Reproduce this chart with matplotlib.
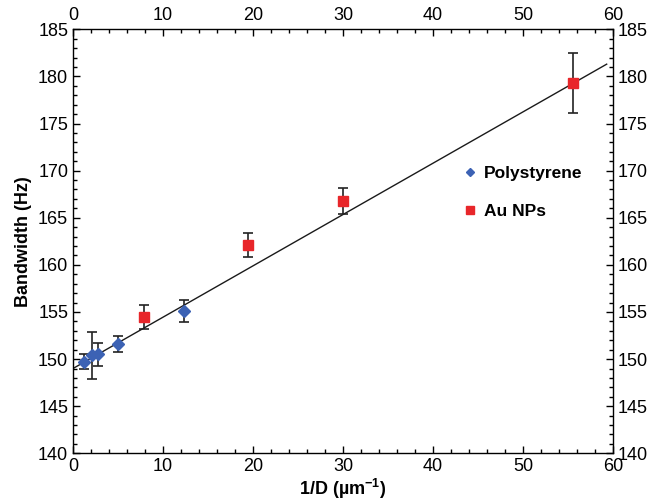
import numpy as np
import matplotlib.pyplot as plt
from matplotlib.ticker import MultipleLocator

plt.rcParams['font.family'] = ['Liberation Sans', 'DejaVu Sans']
plt.rcParams['mathtext.fontset'] = 'custom'
plt.rcParams['mathtext.rm'] = 'Liberation Sans'
plt.rcParams['mathtext.bf'] = 'Liberation Sans:bold'

# Polystyrene beads
ps_x = [1.26, 2.14, 2.81, 5.03, 12.33]
ps_y = [149.7, 150.4, 150.5, 151.6, 155.1]
ps_err = [0.8, 2.5, 1.2, 0.85, 1.2]

# Au nanoparticles
au_x = [7.92, 19.4, 29.96, 55.6]
au_y = [154.5, 162.1, 166.8, 179.3]
au_err = [1.27, 1.27, 1.4, 3.15]

# linear fit
fit_x = [0.0, 59.3]
fit_y = [149.0, 181.3]

fig = plt.figure(figsize=(6.49, 5.0), dpi=100)
ax = fig.add_axes([0.1125, 0.0934, 0.832, 0.848])

ax.plot(fit_x, fit_y, color='#1a1a1a', lw=1.0, zorder=1)

ax.errorbar(ps_x, ps_y, yerr=ps_err, fmt='none', ecolor='#222222', elinewidth=1.2, capsize=3.5, capthick=1.2, zorder=2)
ax.errorbar(au_x, au_y, yerr=au_err, fmt='none', ecolor='#222222', elinewidth=1.2, capsize=3.5, capthick=1.2, zorder=2)
ax.plot(ps_x, ps_y, 'D', color='#3c62b4', markersize=6, mec='#3c62b4', ls='none', label='Polystyrene', zorder=3)
ax.plot(au_x, au_y, 's', color='#e8262a', markersize=7, mec='#e8262a', ls='none', label='Au NPs', zorder=3)

ax.set_xlim(0, 60)
ax.set_ylim(140, 185)
ax.xaxis.set_major_locator(MultipleLocator(10))
ax.xaxis.set_minor_locator(MultipleLocator(2))
ax.yaxis.set_major_locator(MultipleLocator(5))
ax.yaxis.set_minor_locator(MultipleLocator(1))

ax.tick_params(which='both', direction='in', top=True, right=True, labeltop=True, labelright=True,
               labelsize=13, width=1.0, pad=3.5)
ax.tick_params(which='major', length=5)
ax.tick_params(which='minor', length=3)
for s in ax.spines.values():
    s.set_linewidth(1.0)

ax.set_xlabel(r'1/D (µm$^{\mathbf{-1}}$)', fontsize=13, fontweight='bold', labelpad=1)
ax.set_ylabel('Bandwidth (Hz)', fontsize=13, fontweight='bold', labelpad=4)

ax.legend(loc='upper left', bbox_to_anchor=(0.697, 0.715), frameon=False, handlelength=0.6,
          handletextpad=0.5, labelspacing=1.3, markerscale=0.75,
          prop={'size': 12.5, 'weight': 'bold'})

fig.savefig('out.png', dpi=100)
